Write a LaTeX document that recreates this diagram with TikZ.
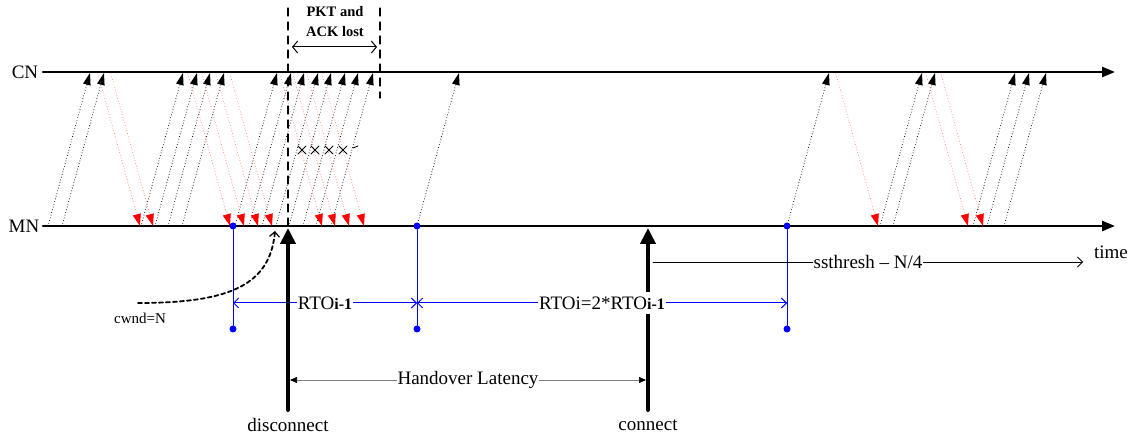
\documentclass[tikz,border=0pt]{standalone}
\usepackage{fontspec}
\setmainfont{Liberation Serif}
\usetikzlibrary{arrows.meta}

\begin{document}
\begin{tikzpicture}[x=1pt, y=-1pt, line cap=round, line join=round,
    barb/.tip={Straight Barb[length=5pt,width=10pt]},
    axis/.style={line width=2.6pt, -{Triangle[length=13pt,width=10pt]}},
    ack/.style={dash pattern=on 0.01pt off 2.8pt, line width=1pt, -{Triangle[length=12pt,width=7.5pt]}},
    pkt/.style={dash pattern=on 0.01pt off 2.8pt, red!50, line width=1pt, -{Triangle[length=12pt,width=8pt,color=red]}},
    event/.style={line width=4pt, -{Triangle[length=16pt,width=15pt]}},
    rto/.style={blue, line width=1pt, barb-barb},
    dot/.style={circle, fill=blue, inner sep=0pt, minimum size=7pt},
    lbl/.style={font=\fontsize{19}{22}\selectfont, inner sep=1pt},
    tag/.style={lbl, fill=white, inner xsep=1pt, inner ysep=5pt}]
    \useasboundingbox (0,0) rectangle (1133,438);
    \node[lbl] (cn) at (25,72) {CN};
    \node[lbl] (mn) at (24,226) {MN};
    \coordinate (cnend) at (1115,72);
    \coordinate (mnend) at (1115,226);
    \draw[axis] (43,72) -- (cnend);
    \draw[axis] (43,226) -- (mnend);
    \foreach \x in {48,62,141,155,168,182,235,249,262,276,289,303,316,331,417,787,880,893,973,987,1004}
      \draw[ack] (\x,226) -- ++(42,-153);
    \foreach \x in {98,111,188,202,216,230,280,293,307,322,836,926,941}
      \draw[pkt] (\x,74) -- ++(42,152);
    \foreach \x in {302,315,329,343}
      \draw[line width=0.9pt] (\x-4,146) -- (\x+4,154) (\x-4,154) -- (\x+4,146);
    \draw[line width=0.9pt] (353,148) -- (358,146);
    \draw[line width=1.2pt, dash pattern=on 8pt off 6pt] (288,8) -- (288,226);
    \draw[line width=1.2pt, dash pattern=on 8pt off 6pt] (380,8) -- (380,98);
    \node[font=\bfseries\fontsize{14.5}{20}\selectfont, align=center] (lost) at (335,22) {PKT and\\ACK lost};
    \coordinate (lostl) at (292,47);
    \coordinate (lostr) at (377,47);
    \draw[line width=1pt, {Straight Barb[length=5pt,width=12pt]}-{Straight Barb[length=5pt,width=12pt]}] (lostl) -- (lostr);
    \foreach \x/\n in {233/a,417/b,787/c} {
      \node[dot] (\n1) at (\x,226) {};
      \node[dot] (\n2) at (\x,329) {};
      \draw[blue, line width=1pt] (\n1) -- (\n2);
      \coordinate (\n3) at (\x,303);
    }
    \draw[rto] (a3) -- (b3) coordinate[midway] (ab);
    \draw[rto] (b3) -- (c3) coordinate[midway] (bc);
    \coordinate (disc0) at (288,410);
    \coordinate (disc1) at (288,228);
    \coordinate (conn0) at (648,410);
    \coordinate (conn1) at (648,228);
    \draw[event] (disc0) -- (disc1);
    \draw[event] (conn0) -- (conn1);
    \node[lbl] (disc) at (288,425) {disconnect};
    \node[lbl] (conn) at (648,425) {connect};
    \node[tag] at (ab) {RTO{\fontsize{16}{18}\selectfont\textbf{i-1}}};
    \node[tag] at (bc) {RTOi=2*RTO{\fontsize{16}{18}\selectfont\textbf{i-1}}};
    \coordinate (hol) at (290,380);
    \coordinate (hor) at (646,380);
    \draw[gray, line width=0.7pt, {Triangle[length=7pt,width=6pt,color=black]}-{Triangle[length=7pt,width=6pt,color=black]}] (hol) -- (hor)
      node[tag, text=black, midway] {Handover Latency};
    \coordinate (ss0) at (653,262);
    \coordinate (ss1) at (1083,262);
    \draw[line width=0.8pt, -barb] (ss0) -- (ss1) node[tag, pos=0.5] {ssthresh -- N/4};
    \node[lbl] (time) at (1111,252) {time};
    \node[font=\fontsize{15}{18}\selectfont] (cwnd) at (140,318) {cwnd=N};
    \coordinate (cw0) at (138,303);
    \coordinate (cw1) at (275,231);
    \draw[line width=1.8pt, dash pattern=on 4pt off 3pt, -{Straight Barb[length=5pt,width=10pt,line width=1.2pt]}] (cw0) .. controls (230,303) and (270,285) .. (cw1);
  \end{tikzpicture}
\end{document}
